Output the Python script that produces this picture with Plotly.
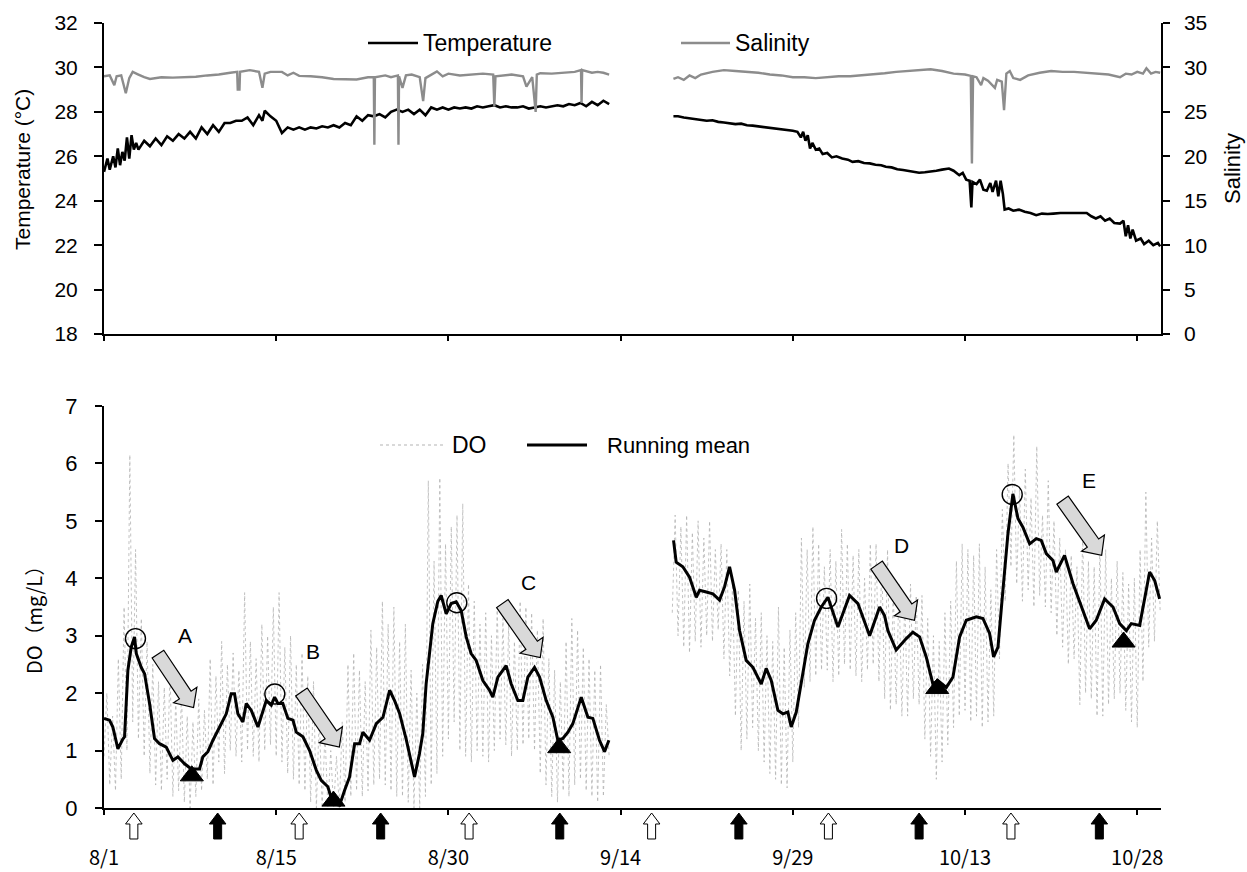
import plotly.graph_objects as go

# ---------------- data ----------------
TICK_DAYS = [0, 15, 30, 45, 60, 75, 90]
TICK_LABELS = ["8/1", "8/15", "8/30", "9/14", "9/29", "10/13", "10/28"]

# Temperature (day since 8/1, degC)
TEMP_SEG1 = [(0.0, 25.3), (0.3, 25.9), (0.5, 25.4), (0.8, 26.0), (1.0, 25.5), (1.2, 26.35), (1.4, 25.6),
             (1.6, 26.2), (1.8, 25.8), (2.0, 26.85), (2.2, 25.9), (2.4, 26.95), (2.6, 26.3), (2.8, 26.6),
             (3.0, 26.3), (3.5, 26.7), (4.0, 26.45), (4.5, 26.8), (5.0, 26.5), (5.5, 26.9), (6.0, 26.7),
             (6.5, 27.0), (7.0, 26.8), (7.5, 27.1), (8.0, 26.8), (8.5, 27.3), (9.0, 27.0), (9.5, 27.4),
             (10.0, 27.1), (10.5, 27.5), (11.0, 27.5), (11.5, 27.6), (12.0, 27.6), (12.5, 27.75), (13.0, 27.4),
             (13.5, 27.85), (13.8, 27.6), (14.0, 28.05), (14.5, 27.8), (15.0, 27.6), (15.5, 27.05), (16.0, 27.3),
             (16.5, 27.2), (17.0, 27.3), (17.5, 27.2), (18.0, 27.3), (18.5, 27.25), (19.0, 27.35), (19.5, 27.3),
             (20.0, 27.4), (20.5, 27.3), (21.0, 27.5), (21.5, 27.4), (22.0, 27.8), (22.5, 27.6), (23.0, 27.85),
             (23.5, 27.8), (24.0, 27.9), (24.5, 27.75), (25.0, 28.0), (25.5, 28.1), (26.0, 28.0), (26.5, 28.1),
             (27.0, 27.9), (27.5, 28.1), (28.0, 27.85), (28.5, 28.2), (29.0, 28.1), (29.5, 28.2), (30.0, 28.1),
             (30.5, 28.2), (31.0, 28.15), (31.5, 28.2), (32.0, 28.15), (32.5, 28.25), (33.0, 28.2), (33.5, 28.25),
             (34.0, 28.3), (34.5, 28.2), (35.0, 28.25), (35.5, 28.2), (36.0, 28.2), (36.5, 28.25), (37.0, 28.15),
             (37.5, 28.2), (38.0, 28.25), (38.5, 28.2), (39.0, 28.25), (39.5, 28.3), (40.0, 28.25), (40.5, 28.35),
             (41.0, 28.3), (41.5, 28.4), (42.0, 28.25), (42.5, 28.45), (43.0, 28.3), (43.5, 28.5), (44.0, 28.35)]
TEMP_SEG2 = [(49.6, 27.8), (50.0, 27.8), (50.5, 27.75), (51.0, 27.72), (51.5, 27.68), (52.0, 27.65), (52.5, 27.6),
             (53.0, 27.62), (53.5, 27.55), (54.0, 27.52), (54.5, 27.5), (55.0, 27.45), (55.5, 27.47), (56.0, 27.4),
             (56.5, 27.38), (57.0, 27.35), (57.5, 27.32), (58.0, 27.3), (58.5, 27.27), (59.0, 27.22), (59.5, 27.2),
             (60.0, 27.15), (60.4, 27.1), (60.7, 26.85), (60.9, 27.1), (61.1, 26.7), (61.3, 26.95), (61.5, 26.35),
             (61.7, 26.6), (62.0, 26.3), (62.3, 26.35), (62.6, 26.1), (63.0, 26.15), (63.4, 25.95), (63.8, 26.0),
             (64.3, 25.9), (64.8, 25.85), (65.2, 25.75), (65.7, 25.78), (66.2, 25.7), (66.7, 25.68), (67.2, 25.62),
             (67.7, 25.6), (68.1, 25.53), (68.6, 25.5), (69.1, 25.42), (69.6, 25.38), (70.1, 25.33), (70.6, 25.28),
             (71.0, 25.26), (71.5, 25.28), (72.0, 25.3), (72.5, 25.35), (73.0, 25.4), (73.6, 25.45), (74.0, 25.35),
             (74.5, 25.15), (74.8, 25.25), (75.1, 24.95), (75.4, 24.9), (75.55, 23.7), (75.65, 24.85), (76.0, 24.75),
             (76.3, 24.95), (76.6, 24.5), (76.9, 24.45), (77.2, 24.8), (77.4, 24.4), (77.7, 24.9), (77.9, 24.2),
             (78.1, 24.9), (78.3, 24.3), (78.45, 23.6), (78.8, 23.65), (79.2, 23.55), (79.7, 23.6), (80.2, 23.5),
             (80.7, 23.45), (81.2, 23.35), (81.7, 23.42), (82.2, 23.4), (82.7, 23.42), (83.3, 23.45), (84.0, 23.45),
             (84.6, 23.45), (85.2, 23.48), (85.6, 23.45), (86.0, 23.3), (86.4, 23.2), (86.8, 23.3), (87.2, 23.1),
             (87.6, 23.2), (88.0, 23.0), (88.5, 22.97), (88.8, 23.1), (89.0, 22.4), (89.2, 22.9), (89.4, 22.3),
             (89.6, 22.7), (89.9, 22.2), (90.3, 22.3), (90.6, 22.05), (91.0, 22.2), (91.4, 22.0), (91.8, 22.1),
             (92.0, 21.95)]

# Salinity
SAL_SEG1 = [(0.0, 29.0), (0.5, 29.1), (0.9, 28.0), (1.1, 29.0), (1.5, 29.1), (1.9, 27.1), (2.2, 28.8), (2.5, 29.5),
            (3.0, 29.2), (3.5, 28.9), (4.0, 28.7), (5.0, 28.9), (6.0, 28.85), (7.0, 28.9), (8.0, 28.95), (9.0, 29.1),
            (10.0, 29.2), (11.0, 29.4), (11.6, 29.5), (11.65, 27.5), (11.8, 27.5), (11.85, 29.5), (12.7, 29.7),
            (13.5, 29.5), (13.8, 27.7), (14.0, 29.3), (14.5, 29.5), (15.5, 29.5), (16.0, 29.1), (16.5, 29.4),
            (17.0, 29.05), (18.0, 29.0), (19.0, 28.9), (20.0, 28.7), (21.0, 28.7), (22.0, 28.65), (23.0, 28.9),
            (23.5, 28.9), (23.55, 21.3), (23.6, 28.9), (24.5, 29.1), (25.0, 28.9), (25.6, 29.1), (25.65, 21.3),
            (25.7, 29.0), (26.0, 27.7), (26.3, 29.1), (26.8, 29.2), (27.5, 28.9), (27.8, 26.2), (28.0, 28.8),
            (28.5, 29.2), (29.0, 29.55), (29.5, 29.0), (30.0, 29.3), (31.0, 29.1), (32.0, 29.2), (33.0, 29.3),
            (33.9, 29.2), (34.0, 25.6), (34.1, 29.0), (35.0, 29.1), (35.5, 29.2), (36.5, 29.0), (36.8, 27.85),
            (37.3, 28.9), (37.6, 25.0), (37.7, 29.2), (38.0, 29.35), (39.0, 29.3), (40.0, 29.4), (41.0, 29.5),
            (41.55, 29.7), (41.6, 26.0), (41.65, 29.7), (42.5, 29.4), (43.0, 29.5), (43.5, 29.4), (44.0, 29.2)]
SAL_SEG2 = [(49.6, 28.7), (50.0, 28.9), (50.5, 28.6), (51.0, 29.1), (51.5, 28.8), (52.0, 29.2), (53.0, 29.5),
            (54.0, 29.7), (55.0, 29.6), (56.0, 29.5), (57.0, 29.4), (58.0, 29.2), (59.0, 29.1), (60.0, 28.9),
            (61.0, 28.9), (62.0, 28.8), (63.0, 28.9), (64.0, 29.0), (65.0, 29.0), (66.0, 29.1), (67.0, 29.2),
            (68.0, 29.35), (69.0, 29.5), (70.0, 29.6), (71.0, 29.7), (72.0, 29.8), (73.0, 29.6), (74.0, 29.3),
            (75.0, 29.2), (75.5, 29.05), (75.6, 19.2), (75.7, 29.0), (76.0, 28.9), (76.4, 28.0), (76.6, 28.8),
            (77.0, 28.5), (77.6, 27.7), (77.8, 28.6), (78.2, 28.4), (78.4, 25.2), (78.6, 29.3), (78.9, 29.6),
            (79.2, 28.8), (79.8, 28.6), (80.5, 29.1), (81.5, 29.4), (82.5, 29.6), (83.5, 29.5), (84.5, 29.5),
            (85.5, 29.4), (86.5, 29.3), (87.5, 29.2), (88.5, 28.9), (89.0, 29.3), (89.5, 29.2), (90.0, 29.5),
            (90.5, 29.3), (90.8, 29.9), (91.2, 29.3), (91.6, 29.5), (92.0, 29.4)]

# Raw DO (mg/L), sampled every 0.25 day
DO_RAW_STEP = 0.25
DO_RAW_START_1 = 0.0
DO_RAW_1 = [0.9, 2.0, 0.4, 1.6, 0.3, 2.6, 0.5, 3.5, 1.0, 6.15, 1.5, 4.5, 1.2, 3.3, 0.9, 2.9,
            0.6, 2.5, 0.4, 2.2, 0.3, 2.1, 0.5, 2.4, 0.2, 1.9, 0.3, 2.0, 0.1, 1.6, 0.0, 1.5,
            0.2, 1.9, 0.3, 1.7, 0.5, 2.6, 0.4, 2.3, 0.8, 2.9, 0.6, 2.5, 1.0, 2.7, 0.9, 2.4,
            0.8, 3.75, 1.0, 2.9, 0.9, 2.6, 0.8, 3.2, 1.0, 3.0, 1.1, 3.5, 0.9, 3.75, 0.8, 2.8,
            0.6, 3.0, 0.5, 2.5, 0.4, 2.7, 0.3, 2.3, 0.1, 2.2, 0.0, 1.6, 0.0, 1.3, 0.0, 1.0,
            0.0, 0.9, 0.0, 1.5, 0.1, 2.5, 0.2, 2.7, 0.3, 2.4, 0.2, 2.2, 0.3, 3.1, 0.4, 2.8,
            0.5, 3.6, 0.4, 3.2, 0.3, 3.5, 0.2, 2.9, 0.2, 3.2, 0.1, 2.4, 0.0, 2.0, 0.0, 2.5,
            0.2, 5.7, 0.4, 4.3, 0.6, 5.75, 0.9, 4.6, 1.2, 4.9, 1.5, 5.1, 1.0, 5.3, 0.9, 3.9,
            0.8, 3.6, 1.0, 3.2, 0.9, 3.4, 0.8, 3.0, 1.0, 3.5, 1.2, 3.3, 1.1, 3.2, 0.9, 2.9,
            1.0, 3.6, 1.1, 3.5, 1.2, 3.4, 1.0, 3.1, 0.6, 3.3, 0.4, 2.6, 0.2, 2.4, 0.1, 2.2,
            0.3, 2.9, 0.2, 3.3, 0.4, 3.1, 0.5, 2.8, 0.3, 2.6, 0.2, 2.4, 0.1, 2.5, 0.2, 1.8,
            0.9]
DO_RAW_START_2 = 49.5
DO_RAW_2 = [3.4, 5.1,
            3.0, 4.9, 2.8, 5.1, 2.7, 4.8, 2.9, 5.0, 2.8, 4.7, 3.0, 5.0, 2.9, 4.5, 3.1, 4.6,
            2.6, 4.5, 2.3, 3.9, 1.6, 3.8, 1.0, 3.6, 1.2, 3.9, 1.4, 3.3, 1.0, 3.4, 0.8, 3.0,
            0.6, 2.9, 0.5, 3.5, 0.4, 2.8, 0.35, 3.1, 0.8, 3.4, 1.4, 4.7, 2.1, 4.5, 2.2, 4.9,
            2.3, 4.6, 2.4, 4.2, 2.4, 4.5, 2.2, 4.3, 2.3, 4.85, 2.5, 4.6, 2.4, 4.4, 2.3, 4.5,
            2.2, 4.0, 2.4, 4.6, 2.5, 4.6, 2.2, 4.3, 1.9, 4.5, 1.7, 3.8, 1.8, 3.9, 1.6, 3.6,
            1.6, 3.9, 1.9, 3.7, 1.8, 3.7, 1.2, 3.3, 0.9, 3.0, 0.5, 2.9, 0.8, 3.4, 1.1, 3.6,
            1.4, 4.3, 1.6, 4.6, 1.7, 4.5, 1.5, 4.4, 1.6, 4.6, 1.4, 4.2, 1.5, 3.8, 1.6, 4.5,
            2.6, 5.2, 3.6, 6.0, 4.2, 6.5, 3.9, 5.6, 3.6, 5.9, 3.8, 5.4, 3.5, 6.3, 3.7, 5.1,
            3.5, 5.7, 3.4, 5.0, 3.0, 4.7, 2.8, 4.5, 2.5, 4.4, 2.6, 4.2, 1.8, 4.8, 2.0, 4.3,
            1.9, 4.2, 1.6, 4.6, 1.6, 4.5, 1.8, 4.0, 1.9, 4.3, 2.0, 4.1, 1.7, 3.9, 1.5, 4.0,
            1.4, 4.5, 2.2, 5.5, 2.8, 4.7, 2.9, 5.0,
            3.4]

# Running mean of DO
RM_DAYS_1 = [0.0, 0.48, 0.77, 1.21, 1.64, 1.79, 2.08, 2.37, 2.66, 2.81, 3.24, 3.53, 3.97, 4.40, 4.84, 5.42,
             6.00, 6.44, 7.02, 7.60, 8.32, 8.61, 9.05, 9.49, 10.07, 10.65, 11.08, 11.37, 11.66, 12.10, 12.39,
             12.83, 13.41, 13.84, 14.13, 14.57, 14.86, 15.15, 15.58, 16.02, 16.46, 16.75, 17.33, 17.91, 18.49,
             18.92, 19.50, 19.94, 20.52, 20.96, 21.39, 21.83, 22.26, 22.55, 23.13, 23.72, 24.30, 24.88, 25.31,
             25.74, 26.32, 27.05, 27.48, 27.77, 28.06, 28.64, 29.08, 29.37, 29.66, 29.81, 30.24, 30.68, 31.11,
             31.55, 31.98, 32.42, 33.0, 33.58, 33.87, 34.31, 35.03, 35.47, 36.05, 36.48, 36.92, 37.50, 37.94,
             38.52, 39.10, 39.53, 39.97, 40.41, 40.84, 41.57, 42.15, 42.58, 43.16, 43.60, 43.98]
RM_VALS_1 = [1.56, 1.53, 1.41, 1.03, 1.20, 1.24, 2.40, 2.80, 2.98, 2.69, 2.45, 2.34, 1.82, 1.21, 1.12, 1.06,
             0.83, 0.89, 0.77, 0.68, 0.68, 0.89, 0.98, 1.18, 1.41, 1.64, 1.99, 1.99, 1.64, 1.50, 1.82,
             1.70, 1.41, 1.70, 1.87, 1.79, 1.93, 1.82, 1.82, 1.56, 1.53, 1.32, 1.24, 1.00, 0.66,
             0.48, 0.37, 0.08, 0.05, 0.31, 0.54, 1.12, 1.12, 1.32, 1.18, 1.47, 1.58, 2.05, 1.87,
             1.65, 1.20, 0.54, 0.95, 1.30, 2.16, 3.21, 3.60, 3.70, 3.50, 3.38, 3.56, 3.59, 3.44,
             2.98, 2.69, 2.57, 2.22, 2.05, 1.93, 2.28, 2.48, 2.16, 1.87, 1.87, 2.28, 2.45, 2.28,
             1.87, 1.58, 1.18, 1.21, 1.32, 1.47, 1.93, 1.58, 1.56, 1.18, 0.98, 1.18]
RM_DAYS_2 = [49.61, 49.84, 50.42, 51.0, 51.59, 51.88, 52.46, 53.04, 53.62, 54.05, 54.49, 54.93, 55.36, 55.94,
             56.52, 57.25, 57.68, 58.12, 58.70, 59.14, 59.57, 59.86, 60.30, 60.88, 61.31, 61.89, 62.48, 63.06,
             63.93, 64.94, 65.67, 66.69, 67.56, 67.99, 68.28, 69.0, 69.88, 70.46, 71.04, 71.62, 72.20, 72.64,
             73.37, 73.95, 74.53, 75.11, 75.98, 76.56, 77.14, 77.49, 77.87, 78.30, 78.74, 79.17, 79.61, 80.04,
             80.63, 81.21, 81.64, 82.08, 82.66, 82.95, 83.67, 84.40, 85.13, 85.85, 86.43, 87.16, 87.89, 88.47,
             89.05, 89.48, 90.21, 90.64, 91.08, 91.52, 91.95]
RM_VALS_2 = [4.66, 4.28, 4.20, 4.02, 3.67, 3.79, 3.76, 3.73, 3.62, 3.85, 4.20, 3.79, 3.09, 2.57,
             2.45, 2.16, 2.43, 2.22, 1.70, 1.64, 1.67, 1.41, 1.67, 2.34, 2.86, 3.27, 3.50, 3.67,
             3.15, 3.70, 3.56, 3.00, 3.50, 3.35, 3.09, 2.75, 2.95, 3.06, 2.98, 2.63, 2.16, 2.22,
             2.10, 2.28, 2.98, 3.27, 3.33, 3.30, 3.04, 2.63, 2.80, 3.79, 4.78, 5.47, 5.04, 4.89,
             4.60, 4.69, 4.66, 4.43, 4.31, 4.11, 4.40, 3.91, 3.50, 3.12, 3.27, 3.64, 3.50, 3.21,
             3.09, 3.21, 3.18, 3.67, 4.11, 3.96, 3.64]

# Peaks (open circles) and troughs (filled triangles)
PEAK_DAYS = [2.74, 14.88, 30.73, 62.94, 79.11]
PEAK_DO = [2.95, 1.985, 3.575, 3.65, 5.46]
TROUGH_DAYS = [7.65, 19.99, 39.65, 72.58, 88.81]
TROUGH_DO = [0.56, 0.12, 1.05, 2.08, 2.89]

# Decline arrows with labels
DECLINE_LABELS = ["A", "B", "C", "D", "E"]
DECLINE_TAIL_DAY = [4.7, 17.2, 34.7, 67.3, 83.5]
DECLINE_TAIL_DO = [2.68, 2.02, 3.56, 4.23, 5.36]
DECLINE_TIP_DAY = [7.8, 20.5, 38.0, 70.6, 86.9]
DECLINE_TIP_DO = [1.75, 1.06, 2.62, 3.27, 4.40]
LABEL_DAY = [7.05, 18.2, 37.0, 69.5, 85.8]
LABEL_DO = [3.0, 2.72, 3.92, 4.57, 5.7]

# Tide markers under the DO axis
OPEN_ARROW_DAYS = [2.6, 17.0, 31.8, 47.7, 63.1, 79.0]
FILLED_ARROW_DAYS = [9.9, 24.1, 39.7, 55.3, 71.0, 86.7]

# ---------------- layout geometry ----------------
W, H = 1247, 872
ML, MR, MT, MB = 104, 86, 23, 64
PW, PH = W - ML - MR, H - MT - MB
X_RANGE = [0, 92.07]
TOP_DOMAIN = [0.6038, 1.0]
BOT_DOMAIN = [0.0, 0.5121]
DO_RANGE = [0, 7]

TICK_FONT = "Liberation Sans, Arial, sans-serif"
JP_FONT = "Noto Sans CJK JP, sans-serif"


def px2paper_x(px):
    return (px - ML) / PW


def py2paper_y(py):
    return (H - MB - py) / PH


def day2px(d):
    return ML + (d - X_RANGE[0]) / (X_RANGE[1] - X_RANGE[0]) * PW


def do2py(v):
    y0 = H - MB - BOT_DOMAIN[0] * PH
    y1 = H - MB - BOT_DOMAIN[1] * PH
    return y0 + (y1 - y0) * (v - DO_RANGE[0]) / (DO_RANGE[1] - DO_RANGE[0])


def path_from_px(pts):
    return "M " + " L ".join(f"{px2paper_x(x):.5f},{py2paper_y(y):.5f}" for x, y in pts) + " Z"


def block_arrow(p0, p1, sw=7.0, hw=14.0, hl=15.0):
    dx, dy = p1[0] - p0[0], p1[1] - p0[1]
    L = (dx * dx + dy * dy) ** 0.5
    ux, uy = dx / L, dy / L
    nx, ny = -uy, ux
    bx, by = p1[0] - ux * hl, p1[1] - uy * hl
    pts = [(p0[0] + nx * sw, p0[1] + ny * sw), (bx + nx * sw, by + ny * sw), (bx + nx * hw, by + ny * hw),
           p1, (bx - nx * hw, by - ny * hw), (bx - nx * sw, by - ny * sw), (p0[0] - nx * sw, p0[1] - ny * sw)]
    return path_from_px(pts)


def up_arrow(cx, top, head_h=11.0, head_hw=8.3, shaft_hw=4.0, total_h=26.0):
    pts = [(cx, top), (cx + head_hw, top + head_h), (cx + shaft_hw, top + head_h), (cx + shaft_hw, top + total_h),
           (cx - shaft_hw, top + total_h), (cx - shaft_hw, top + head_h), (cx - head_hw, top + head_h)]
    return path_from_px(pts)


def split(pairs):
    return [p[0] for p in pairs], [p[1] for p in pairs]


fig = go.Figure()

# Top panel
for seg in (TEMP_SEG1, TEMP_SEG2):
    x, y = split(seg)
    fig.add_trace(go.Scatter(x=x, y=y, mode="lines", line=dict(color="black", width=2.6),
                             xaxis="x", yaxis="y", showlegend=False, hoverinfo="skip"))
for seg in (SAL_SEG1, SAL_SEG2):
    x, y = split(seg)
    fig.add_trace(go.Scatter(x=x, y=y, mode="lines", line=dict(color="#8c8c8c", width=2.4),
                             xaxis="x", yaxis="y2", showlegend=False, hoverinfo="skip"))

# Bottom panel
DO_RAW_COLOR = "#b3b3b3"
for start, vals in ((DO_RAW_START_1, DO_RAW_1), (DO_RAW_START_2, DO_RAW_2)):
    xs = [start + DO_RAW_STEP * i for i in range(len(vals))]
    fig.add_trace(go.Scatter(x=xs, y=vals, mode="lines", line=dict(color=DO_RAW_COLOR, width=0.8, dash="dot"),
                             xaxis="x2", yaxis="y3", showlegend=False, hoverinfo="skip"))
for xs, ys in ((RM_DAYS_1, RM_VALS_1), (RM_DAYS_2, RM_VALS_2)):
    fig.add_trace(go.Scatter(x=xs, y=ys, mode="lines", line=dict(color="black", width=3),
                             xaxis="x2", yaxis="y3", showlegend=False, hoverinfo="skip"))
fig.add_trace(go.Scatter(x=PEAK_DAYS, y=PEAK_DO, mode="markers",
                         marker=dict(symbol="circle-open", size=20, color="black", line=dict(width=1.4)),
                         xaxis="x2", yaxis="y3", showlegend=False, hoverinfo="skip", cliponaxis=False))
fig.add_trace(go.Scatter(x=TROUGH_DAYS, y=TROUGH_DO, mode="markers",
                         marker=dict(symbol="triangle-up", size=20, color="black", line=dict(width=1, color="black")),
                         xaxis="x2", yaxis="y3", showlegend=False, hoverinfo="skip", cliponaxis=False))

shapes = []
annotations = []

# gray decline arrows
for i in range(len(DECLINE_LABELS)):
    p0 = (day2px(DECLINE_TAIL_DAY[i]), do2py(DECLINE_TAIL_DO[i]))
    p1 = (day2px(DECLINE_TIP_DAY[i]), do2py(DECLINE_TIP_DO[i]))
    shapes.append(dict(type="path", xref="paper", yref="paper", path=block_arrow(p0, p1),
                       fillcolor="#d9d9d9", line=dict(color="black", width=1.2), layer="above"))
    annotations.append(dict(x=LABEL_DAY[i], y=LABEL_DO[i], xref="x2", yref="y3", text=DECLINE_LABELS[i],
                            showarrow=False, xanchor="center", yanchor="middle",
                            font=dict(family=TICK_FONT, size=21, color="black")))

# tide arrows under axis
AX_Y = H - MB
for d in OPEN_ARROW_DAYS:
    shapes.append(dict(type="path", xref="paper", yref="paper", path=up_arrow(day2px(d), AX_Y + 5),
                       fillcolor="white", line=dict(color="black", width=1)))
for d in FILLED_ARROW_DAYS:
    shapes.append(dict(type="path", xref="paper", yref="paper", path=up_arrow(day2px(d), AX_Y + 5),
                       fillcolor="black", line=dict(color="black", width=1)))


# manual legends
def legend_item(x0, x1, y, color, width, dash, text, tx, size):
    shapes.append(dict(type="line", xref="paper", yref="paper", x0=px2paper_x(x0), x1=px2paper_x(x1),
                       y0=py2paper_y(y), y1=py2paper_y(y), line=dict(color=color, width=width, dash=dash)))
    annotations.append(dict(x=px2paper_x(tx), y=py2paper_y(y), xref="paper", yref="paper", text=text,
                            xanchor="left", yanchor="middle", showarrow=False,
                            font=dict(family=TICK_FONT, size=size, color="black")))


legend_item(368, 418, 43, "black", 2.6, "solid", "Temperature", 421, 23)
legend_item(681, 730, 43, "#8c8c8c", 2.4, "solid", "Salinity", 733, 23)
legend_item(380, 443, 445, DO_RAW_COLOR, 1, "dot", "DO", 450, 23)
legend_item(527, 587, 445, "black", 3, "solid", "Running mean", 605, 22)

# axis titles
annotations.append(dict(x=px2paper_x(23), y=py2paper_y(170), xref="paper", yref="paper",
                        text="Temperature (°C)", textangle=-90, showarrow=False,
                        xanchor="center", yanchor="middle",
                        font=dict(family=TICK_FONT, size=21, color="black")))
annotations.append(dict(x=px2paper_x(1233), y=py2paper_y(169), xref="paper", yref="paper",
                        text="Salinity", textangle=-90, showarrow=False,
                        xanchor="center", yanchor="middle",
                        font=dict(family=TICK_FONT, size=22, color="black")))
annotations.append(dict(x=px2paper_x(33), y=py2paper_y(615), xref="paper", yref="paper",
                        text="DO（mg/L）", textangle=-90, showarrow=False,
                        xanchor="center", yanchor="middle",
                        font=dict(family=JP_FONT, size=20, color="black")))

axis_common = dict(showline=True, linecolor="black", showgrid=False, zeroline=False, ticks="outside",
                   tickcolor="black", tickwidth=1.5, automargin=False)

fig.update_layout(
    width=W, height=H, margin=dict(l=ML, r=MR, t=MT, b=MB, autoexpand=False),
    paper_bgcolor="white", plot_bgcolor="white", showlegend=False,
    xaxis=dict(domain=[0, 1], anchor="y", range=X_RANGE, tickmode="array", tickvals=TICK_DAYS,
               showticklabels=False, ticklen=5, linewidth=2, **axis_common),
    yaxis=dict(domain=TOP_DOMAIN, anchor="x", range=[18, 32], tick0=18, dtick=2, ticklen=8, linewidth=2,
               ticklabelstandoff=12, tickfont=dict(family=TICK_FONT, size=21, color="black"), **axis_common),
    yaxis2=dict(overlaying="y", side="right", anchor="x", range=[0, 35], tick0=0, dtick=5, ticklen=7,
                linewidth=1.5, ticklabelstandoff=10, tickfont=dict(family=TICK_FONT, size=21, color="black"),
                **axis_common),
    xaxis2=dict(domain=[0, 1], anchor="y3", range=X_RANGE, tickmode="array", tickvals=TICK_DAYS,
                ticktext=TICK_LABELS, ticklen=5, linewidth=2, ticklabelstandoff=26,
                tickfont=dict(family=JP_FONT, size=20, color="black"), **axis_common),
    yaxis3=dict(domain=BOT_DOMAIN, anchor="x2", range=DO_RANGE, tick0=0, dtick=1, ticklen=7, linewidth=2,
                ticklabelstandoff=13, tickfont=dict(family=TICK_FONT, size=22, color="black"), **axis_common),
    shapes=shapes, annotations=annotations,
)

fig.write_html("out.html")
